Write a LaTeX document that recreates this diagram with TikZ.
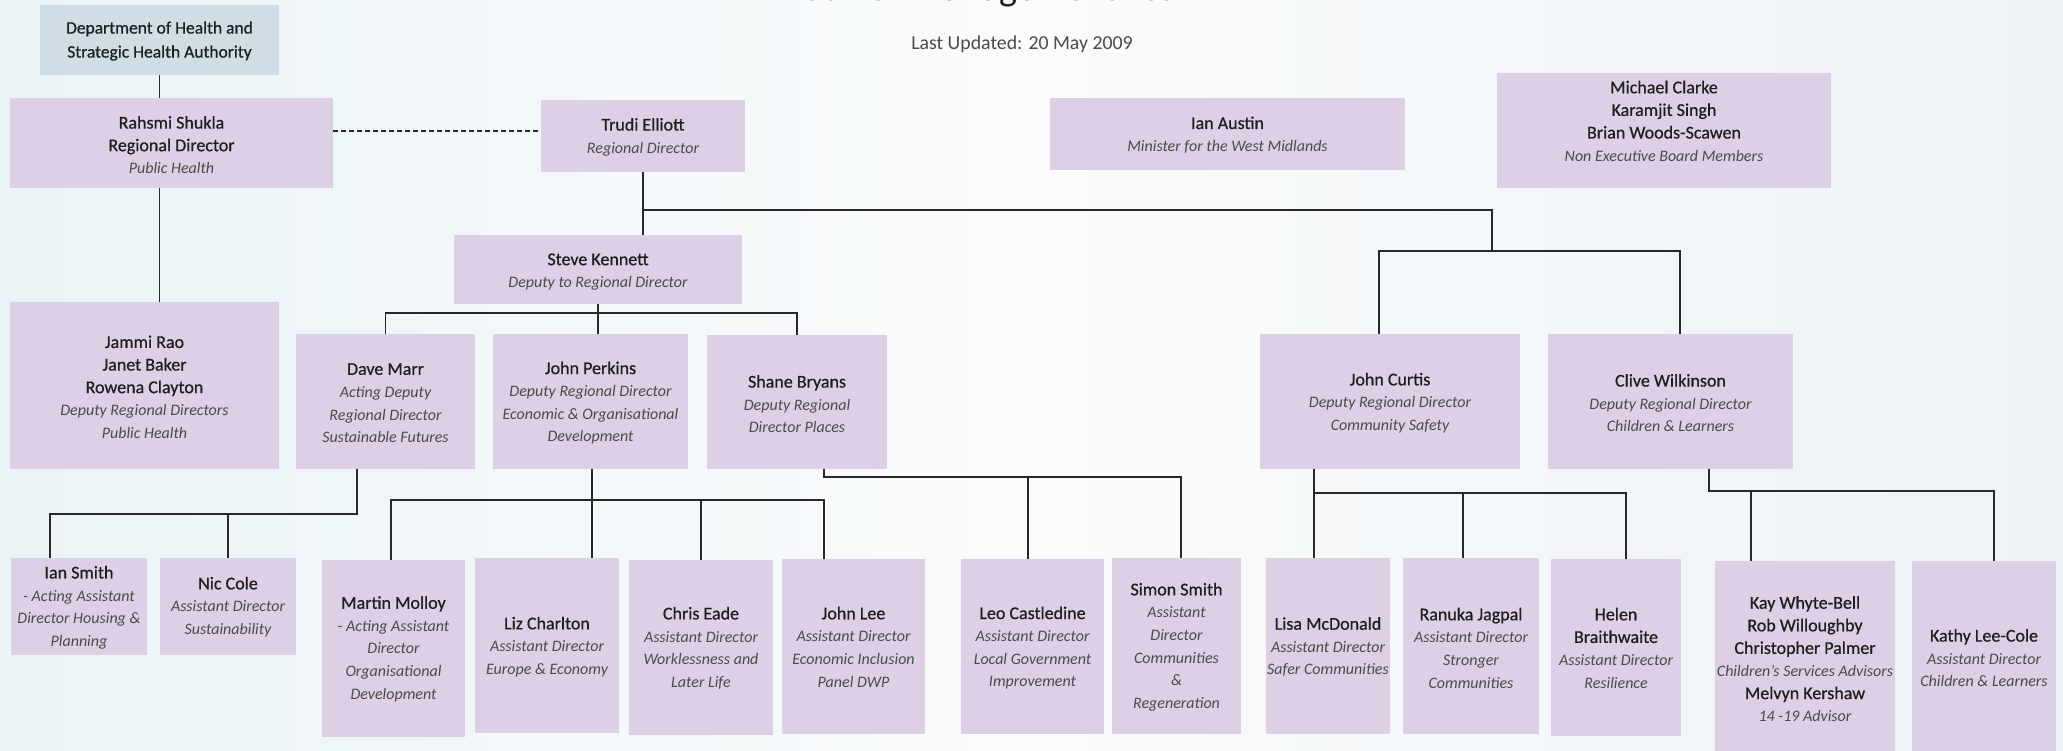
\documentclass[tikz,border=0pt]{standalone}
\usepackage{fontspec}
\setmainfont{Carlito}
\newfontfamily\namefont{Carlito}[FakeBold=0.6]
\usetikzlibrary{calc}
\definecolor{boxc}{RGB}{220,207,230}
\definecolor{deptc}{RGB}{207,221,228}
\definecolor{linec}{RGB}{40,40,40}
\definecolor{namec}{RGB}{30,30,30}
\definecolor{rolec}{RGB}{75,75,75}
\definecolor{bgl}{RGB}{234,243,246}
\definecolor{bgm}{RGB}{250,251,252}
\definecolor{bgr}{RGB}{236,242,246}
\newcommand{\rl}[1]{{\rmfamily\itshape\fontsize{16}{22.6}\selectfont\color{rolec}#1}}
\begin{document}
\begin{tikzpicture}[x=1pt,y=-1pt,
  box/.style={rectangle, draw=none, fill=boxc, inner sep=0pt},
  txt/.style={inner sep=0pt, align=center, text=namec, font=\namefont\fontsize{18}{22.6}\selectfont},
  conn/.style={draw=linec, line width=1.3pt},
  dashconn/.style={conn, dash pattern=on 5pt off 3pt}]
\useasboundingbox (0,0) rectangle (2063,751);
\shade[left color=bgl, right color=bgr, middle color=bgm] (0,0) rectangle (2063,751);

% title and date
\node[anchor=base, inner sep=0pt, text=namec, font=\fontsize{38}{40}\selectfont] (title) at (1006,0.5) {Senior Management Team};
\node[inner sep=0pt, text=rolec, font=\fontsize{19.8}{22}\selectfont] (updated) at (1022,44) {Last Updated: 20 May 2009};

% boxes
\node[box, fill=deptc, minimum width=239pt, minimum height=70pt] (dept) at (159.5,40) {};
\node[box, minimum width=323pt, minimum height=90pt] (rahsmi) at (171.5,143) {};
\node[box, minimum width=204pt, minimum height=72pt] (trudi) at (643,136) {};
\node[box, minimum width=355pt, minimum height=72pt] (austin) at (1227.5,134) {};
\node[box, minimum width=334pt, minimum height=115pt] (clarke) at (1664,130.5) {};
\node[box, minimum width=269pt, minimum height=167pt] (jammi) at (144.5,385.5) {};
\node[box, minimum width=288pt, minimum height=69pt] (steve) at (598,269.5) {};
\node[box, minimum width=179pt, minimum height=135pt] (dave) at (385.5,401.5) {};
\node[box, minimum width=195pt, minimum height=135pt] (perkins) at (590.5,401.5) {};
\node[box, minimum width=180pt, minimum height=134pt] (shane) at (797,402) {};
\node[box, minimum width=260pt, minimum height=135pt] (curtis) at (1390,401.5) {};
\node[box, minimum width=245pt, minimum height=135pt] (clive) at (1670.5,401.5) {};
\node[box, minimum width=136pt, minimum height=97pt] (iansmith) at (79,606.5) {};
\node[box, minimum width=136pt, minimum height=97pt] (niccole) at (228,606.5) {};
\node[box, minimum width=143pt, minimum height=177pt] (molloy) at (393.5,648.5) {};
\node[box, minimum width=144pt, minimum height=175pt] (charlton) at (547,645.5) {};
\node[box, minimum width=144pt, minimum height=175pt] (eade) at (701,647.5) {};
\node[box, minimum width=143pt, minimum height=175pt] (johnlee) at (853.5,646.5) {};
\node[box, minimum width=143pt, minimum height=175pt] (leo) at (1032.5,646.5) {};
\node[box, minimum width=129pt, minimum height=176pt] (simon) at (1176.5,646) {};
\node[box, minimum width=124pt, minimum height=176pt] (lisa) at (1328,646) {};
\node[box, minimum width=136pt, minimum height=176pt] (ranuka) at (1471,646) {};
\node[box, minimum width=130pt, minimum height=177pt] (helen) at (1616,647.5) {};
\node[box, minimum width=180pt, minimum height=190pt] (kay) at (1805,656) {};
\node[box, minimum width=144pt, minimum height=190pt] (kathy) at (1984,656) {};

% texts
\node[txt, font=\namefont\fontsize{17.5}{24}\selectfont] (dept-t) at (159.5,41) {Department of Health and\\Strategic Health Authority};
\node[txt] (rahsmi-t) at (171.5,145) {Rahsmi Shukla\\Regional Director\\\rl{Public Health}};
\node[txt] (trudi-t) at (643,137) {Trudi Elliott\\\rl{Regional Director}};
\node[txt] (austin-t) at (1227.5,135) {Ian Austin\\\rl{Minister for the West Midlands}};
\node[txt] (clarke-t) at (1664,121) {Michael Clarke\\Karamjit Singh\\Brian Woods-Scawen\\\rl{Non Executive Board Members}};
\node[txt] (jammi-t) at (144.5,387) {Jammi Rao\\Janet Baker\\Rowena Clayton\\\rl{Deputy Regional Directors}\\\rl{Public Health}};
\node[txt] (steve-t) at (598,272) {Steve Kennett\\\rl{Deputy to Regional Director}};
\node[txt] (dave-t) at (385.5,403) {Dave Marr\\\rl{Acting Deputy}\\\rl{Regional Director}\\\rl{Sustainable Futures}};
\node[txt] (perkins-t) at (590.5,403) {John Perkins\\\rl{Deputy Regional Director}\\\rl{Economic \& Organisational}\\\rl{Development}};
\node[txt] (shane-t) at (797,404) {Shane Bryans\\\rl{Deputy Regional}\\\rl{Director Places}};
\node[txt] (curtis-t) at (1390,403) {John Curtis\\\rl{Deputy Regional Director}\\\rl{Community Safety}};
\node[txt] (clive-t) at (1670.5,403) {Clive Wilkinson\\\rl{Deputy Regional Director}\\\rl{Children \& Learners}};
\node[txt] (iansmith-t) at (79,607.5) {Ian Smith\\\rl{- Acting Assistant}\\\rl{Director Housing \&}\\\rl{Planning}};
\node[txt] (niccole-t) at (228,607) {Nic Cole\\\rl{Assistant Director}\\\rl{Sustainability}};
\node[txt] (molloy-t) at (393.5,649) {Martin Molloy\\\rl{- Acting Assistant}\\\rl{Director}\\\rl{Organisational}\\\rl{Development}};
\node[txt] (charlton-t) at (547,647) {Liz Charlton\\\rl{Assistant Director}\\\rl{Europe \& Economy}};
\node[txt] (eade-t) at (701,648) {Chris Eade\\\rl{Assistant Director}\\\rl{Worklessness and}\\\rl{Later Life}};
\node[txt] (johnlee-t) at (853.5,647) {John Lee\\\rl{Assistant Director}\\\rl{Economic Inclusion}\\\rl{Panel DWP}};
\node[txt] (leo-t) at (1032.5,648) {Leo Castledine\\\rl{Assistant Director}\\\rl{Local Government}\\\rl{Improvement}};
\node[txt] (simon-t) at (1176.5,647) {Simon Smith\\\rl{Assistant}\\\rl{Director}\\\rl{Communities}\\\rl{\&}\\\rl{Regeneration}};
\node[txt] (lisa-t) at (1328,647) {Lisa McDonald\\\rl{Assistant Director}\\\rl{Safer Communities}};
\node[txt] (ranuka-t) at (1471,648) {Ranuka Jagpal\\\rl{Assistant Director}\\\rl{Stronger}\\\rl{Communities}};
\node[txt] (helen-t) at (1616,648) {Helen\\Braithwaite\\\rl{Assistant Director}\\\rl{Resilience}};
\node[txt] (kay-t) at (1805,659) {Kay Whyte-Bell\\Rob Willoughby\\Christopher Palmer\\\rl{Children's Services Advisors}\\Melvyn Kershaw\\\rl{14 -19 Advisor}};
\node[txt] (kathy-t) at (1984,658) {Kathy Lee-Cole\\\rl{Assistant Director}\\\rl{Children \& Learners}};

% helper coordinates
\coordinate (dashy) at (0,131);
\coordinate (trR) at (1492,210);
\coordinate (cA) at (1379,251);
\coordinate (cB) at (1680,251);
\coordinate (sbus) at (0,313);
\coordinate (dA) at (357,514);
\coordinate (dB) at (50,514);
\coordinate (pA) at (592,500);
\coordinate (pL) at (391,500);
\coordinate (pR) at (824,500);
\coordinate (shA) at (824,477);
\coordinate (shL) at (1028,477);
\coordinate (shR) at (1181,477);
\coordinate (cuA) at (1314,493);
\coordinate (cuM) at (1463,493);
\coordinate (cuR) at (1626,493);
\coordinate (clA) at (1709,491);
\coordinate (clK) at (1751,491);
\coordinate (clR) at (1994,491);

% connectors
\draw[conn] (dept.south) -- (dept.south |- rahsmi.north);
\draw[conn] (dept.south |- rahsmi.south) -- (dept.south |- jammi.north);
\draw[dashconn] (rahsmi.east |- dashy) -- (trudi.west |- dashy);
\draw[conn] (trudi.south) -- (trudi.south |- steve.north);
\draw[conn] (trudi.south |- trR) -- (trR) -- (trR |- cA);
\draw[conn] (cA |- curtis.north) -- (cA) -- (cB) -- (cB |- clive.north);
\draw[conn] (steve.south) -- (steve.south |- perkins.north);
\draw[conn] (dave.north) -- (dave.north |- sbus) -- (shane.north |- sbus) -- (shane.north);
\draw[conn] (dA |- dave.south) -- (dA) -- (dB) -- (dB |- iansmith.north);
\draw[conn] (niccole.north) -- (niccole.north |- dA);
\draw[conn] (pA |- perkins.south) -- (pA |- charlton.north);
\draw[conn] (pL |- molloy.north) -- (pL) -- (pR) -- (pR |- johnlee.north);
\draw[conn] (eade.north) -- (eade.north |- pA);
\draw[conn] (shA |- shane.south) -- (shA) -- (shR) -- (shR |- simon.north);
\draw[conn] (shL) -- (shL |- leo.north);
\draw[conn] (cuA |- curtis.south) -- (cuA |- lisa.north);
\draw[conn] (cuA) -- (cuR) -- (cuR |- helen.north);
\draw[conn] (cuM) -- (cuM |- ranuka.north);
\draw[conn] (clA |- clive.south) -- (clA) -- (clR) -- (clR |- kathy.north);
\draw[conn] (clK) -- (clK |- kay.north);
\end{tikzpicture}
\end{document}
